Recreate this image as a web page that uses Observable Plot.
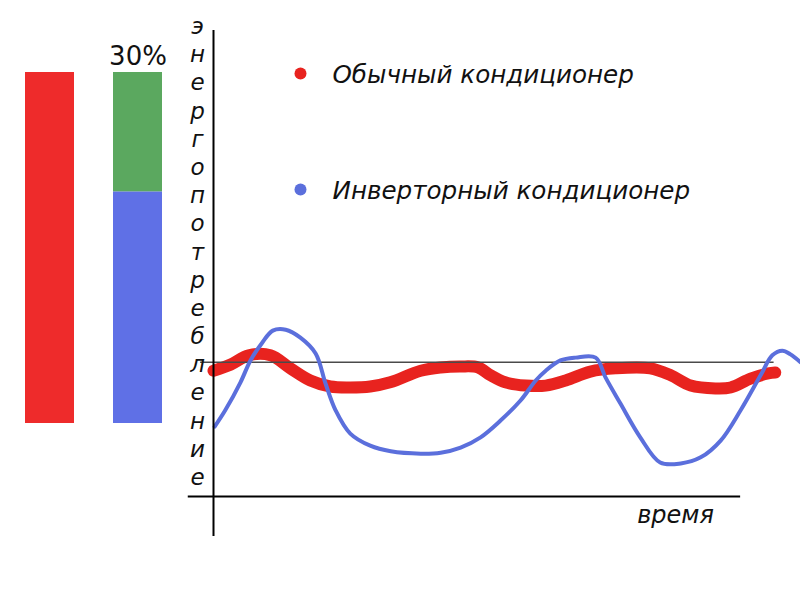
<!DOCTYPE html>
<html>
<head>
<meta charset="utf-8">
<script src="https://cdn.jsdelivr.net/npm/d3@7"></script>
<script src="https://cdn.jsdelivr.net/npm/@observablehq/plot@0.6"></script>
<style>
  html, body { margin: 0; padding: 0; background: #ffffff; }
  #wrap { position: relative; width: 800px; height: 600px; overflow: hidden; }
  #wrap svg { position: absolute; left: 0; top: 0; background: transparent; }
</style>
</head>
<body>
<div id="wrap"></div>
<script>
// ---- Data ----
// Left bar comparison
const barGroups = ["Обычный", "Инверторный", "Инверторный"];
const barParts = ["обычный", "инверторный", "экономия"];
const barValues = [100, 66, 34];
const barLabels = ["", "", "30%"];

// Series over time
const redTime = [0, 2.9, 6.0, 9.7, 13.1, 16.5, 19.9, 23.3, 26.7, 30.1, 35.3, 38.7, 42.1, 45.1, 47.2, 49.7, 53.2, 56.6, 60.0, 64.2, 68.5, 74.4, 77.9, 81.3, 85.5, 88.1, 91.5, 94.5, 95.7];
const redPower = [27.0, 28.3, 30.3, 30.3, 27.5, 24.9, 23.6, 23.4, 23.6, 24.5, 27.0, 27.7, 27.9, 27.7, 26.0, 24.5, 23.8, 23.8, 24.9, 26.8, 27.5, 27.5, 26.0, 23.8, 23.2, 23.4, 25.3, 26.4, 26.6];

const blueTime = [0.2, 2.0, 4.6, 6.3, 8.3, 10.1, 12.3, 14.8, 17.4, 19.1, 20.8, 23.3, 26.7, 30.2, 35.3, 38.7, 42.1, 45.5, 48.9, 52.3, 54.9, 56.6, 59.1, 61.7, 65.1, 66.8, 69.3, 72.7, 76.1, 79.6, 83.0, 86.4, 89.8, 93.2, 95.2, 96.9, 98.3, 100];
const bluePower = [15.0, 18.5, 24.5, 29.2, 33.0, 35.6, 35.8, 34.1, 30.7, 24.2, 18.5, 13.5, 10.9, 9.7, 9.2, 9.4, 10.5, 12.7, 16.3, 20.6, 24.9, 27.0, 29.2, 29.8, 29.8, 25.5, 20.0, 12.7, 7.3, 7.1, 8.4, 12.0, 18.5, 26.0, 30.3, 31.3, 30.5, 28.8];

const refLevel = [28.8];
const seriesNames = ["Обычный кондиционер", "Инверторный кондиционер"];
const seriesColors = ["#e8231f", "#5b6fdc"];
const partColors = ["#ee2b2b", "#5f70e6", "#5ba85f"];
const yLabel = "энергопотребление";
const xLabel = "время";

// ---- Tables ----
const barTable = barValues.map((v, i) => ({group: barGroups[i], part: barParts[i], value: v, label: barLabels[i]}));
const red = redTime.map((t, i) => ({t, p: redPower[i]}));
const blue = blueTime.map((t, i) => ({t, p: bluePower[i]}));
const legend = seriesNames.map((n, i) => ({name: n, color: seriesColors[i]}));

const FONT = "DejaVu Sans";

// ---- Bar chart ----
const bars = Plot.plot({
  width: 200, height: 600,
  marginTop: 72, marginBottom: 177, marginLeft: 0, marginRight: 0,
  x: {domain: ["Обычный", "Инверторный"], range: [24, 163], paddingInner: 0.438, paddingOuter: 0, axis: null},
  y: {domain: [0, 100], axis: null},
  color: {domain: barParts, range: partColors},
  marks: [
    Plot.barY(barTable, Plot.stackY({x: "group", y: "value", fill: "part"})),
    Plot.text(barTable.filter(d => d.label), {x: "group", y: () => 100, text: "label", dy: -16,
      fontSize: 26, fontFamily: FONT, fill: "#111"})
  ]
});

// ---- Line chart ----
const main = Plot.plot({
  width: 800, height: 600,
  marginLeft: 213, marginRight: 0, marginTop: 30, marginBottom: 104,
  x: {domain: [0, 100], axis: null},
  y: {domain: [0, 100], axis: null},
  marks: [
    Plot.line(red, {x: "t", y: "p", stroke: seriesColors[0], strokeWidth: 12, curve: "catmull-rom", strokeLinecap: "round", strokeLinejoin: "round"}),
    Plot.ruleY(refLevel, {x1: -2.2, x2: 95.5, stroke: "#4a4a4a", strokeWidth: 1.5}),
    Plot.line(blue, {x: "t", y: "p", stroke: seriesColors[1], strokeWidth: 4, curve: "catmull-rom", strokeLinecap: "round", strokeLinejoin: "round"}),
    Plot.ruleX([0], {y1: -8.6, y2: 100, stroke: "#000", strokeWidth: 2}),
    Plot.ruleY([0], {x1: -4.3, x2: 89.8, stroke: "#000", strokeWidth: 2}),
    Plot.text([yLabel], {frameAnchor: "left", dx: -16, dy: -13, text: d => [...d].join("\n"),
      lineHeight: 1.225, fontSize: 23, fontStyle: "italic", fontFamily: FONT, fill: "#111", textAnchor: "middle"}),
    Plot.text([xLabel], {frameAnchor: "bottom-right", dx: -125, dy: 26, text: d => d,
      fontSize: 24, fontStyle: "italic", fontFamily: FONT, fill: "#111", textAnchor: "middle"}),
    ...legend.map((d, i) => Plot.dot([d], {frameAnchor: "top-left", dx: 87, dy: 43 + i * 116, r: 6, fill: d.color, stroke: "none"})),
    ...legend.map((d, i) => Plot.text([d], {frameAnchor: "top-left", dx: 119, dy: 35 + i * 116, text: "name",
      textAnchor: "start", fontSize: 24.6, fontStyle: "italic", fontFamily: FONT, fill: "#111"}))
  ]
});

const wrap = document.getElementById("wrap");
wrap.appendChild(bars);
wrap.appendChild(main);
</script>
</body>
</html>
